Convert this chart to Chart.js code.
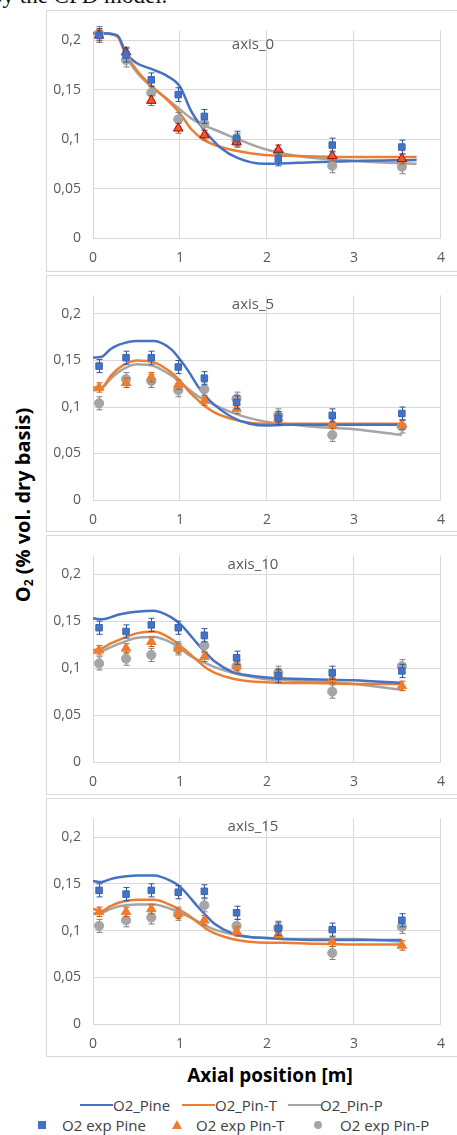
<!DOCTYPE html>
<html>
<head>
<meta charset="utf-8">
<script src="https://cdn.jsdelivr.net/npm/chart.js@4.4.1/dist/chart.umd.min.js"></script>
<style>
  html, body { margin: 0; padding: 0; background: #fff; }
  body { position: relative; width: 457px; height: 1135px; overflow: hidden; font-family: "Open Sans", sans-serif; }
  .abs { position: absolute; }
  .box { position: absolute; border: 1px solid #d9d9d9; box-sizing: border-box; }
  .ptitle { position: absolute; font-size: 15px; color: #595959; transform: translate(-50%, -50%); white-space: nowrap; }
  .leg { position: absolute; font-size: 15px; color: #404040; white-space: nowrap; line-height: 18px; }
  .lline { position: absolute; height: 2px; width: 33px; }
</style>
</head>
<body>

<div class="abs" style="left:-9px;top:-17px;font-family:'Liberation Serif',serif;font-size:23px;color:#111;">by the CFD model.</div>

<div class="abs" style="left:23px;top:505px;transform:translate(-50%,-50%) rotate(-90deg);font-weight:bold;font-size:20px;white-space:nowrap;color:#000;">O<sub style="font-size:0.6em;vertical-align:-0.2em;">2</sub> (% vol. dry basis)</div>
<div class="abs" style="left:270px;top:1075px;transform:translate(-50%,-50%);font-weight:bold;font-size:19px;white-space:nowrap;color:#000;">Axial position [m]</div>

<div id="panels"></div>

<!-- legend -->
<div class="lline" style="left:80px;top:1104px;background:#4472C4;"></div>
<div class="leg" style="left:113px;top:1096px;">O2_Pine</div>
<div class="lline" style="left:182px;top:1104px;background:#ED7D31;"></div>
<div class="leg" style="left:215px;top:1096px;">O2_Pin-T</div>
<div class="lline" style="left:288px;top:1104px;background:#A5A5A5;"></div>
<div class="leg" style="left:320px;top:1096px;">O2_Pin-P</div>

<div class="abs" style="left:38px;top:1121px;width:8px;height:8px;background:#4472C4;"></div>
<div class="leg" style="left:62px;top:1116px;">O2 exp Pine</div>
<div class="abs" style="left:172px;top:1120px;width:0;height:0;border-left:5px solid transparent;border-right:5px solid transparent;border-bottom:9px solid #ED7D31;"></div>
<div class="leg" style="left:196px;top:1116px;">O2 exp Pin-T</div>
<div class="abs" style="left:314px;top:1121px;width:8px;height:8px;border-radius:50%;background:#A5A5A5;"></div>
<div class="leg" style="left:340px;top:1116px;">O2 exp Pin-P</div>

<script>
"use strict";

// ─── Data ────────────────────────────────────────────────────────────────

const X_EXP   = [0.07, 0.38, 0.67, 0.98, 1.28, 1.65, 2.13, 2.75, 3.55];
const X_SIM_0 = [0, 0.1, 0.28, 0.38, 0.5, 0.67, 0.85, 1.0, 1.13, 1.28, 1.47, 1.66, 1.97, 2.35, 3.0, 3.72];
const X_SIM   = [0, 0.1, 0.2, 0.3, 0.5, 0.7, 0.9, 1.0, 1.1, 1.2, 1.3, 1.4, 1.6, 1.8, 2.0, 2.2, 2.5, 3.0, 3.55];

const X_TICKS = [0, 1, 2, 3, 4];
const Y_TICKS = [0, 0.05, 0.1, 0.15, 0.2];

const ERR_PINE = 0.007;
const ERR_PINT = 0.005;
const ERR_PINP = 0.007;

// axis_0
const A0_SIM_PINE = [0.207, 0.207, 0.205, 0.187, 0.177, 0.171, 0.164, 0.153, 0.128, 0.109, 0.091, 0.081, 0.075, 0.076, 0.078, 0.079];
const A0_SIM_PINT = [0.207, 0.207, 0.204, 0.186, 0.170, 0.154, 0.140, 0.126, 0.110, 0.099, 0.092, 0.088, 0.084, 0.083, 0.082, 0.082];
const A0_SIM_PINP = [0.207, 0.207, 0.204, 0.184, 0.168, 0.153, 0.141, 0.130, 0.121, 0.114, 0.107, 0.100, 0.090, 0.083, 0.078, 0.075];
const A0_EXP_PINE = [0.205, 0.185, 0.160, 0.145, 0.123, 0.101, 0.080, 0.094, 0.092];
const A0_EXP_PINT = [0.205, 0.188, 0.139, 0.111, 0.104, 0.097, 0.089, 0.083, 0.080];
const A0_EXP_PINP = [0.207, 0.180, 0.147, 0.120, 0.116, 0.099, 0.087, 0.073, 0.072];

// axis_5
const A5_SIM_PINE = [0.153, 0.154, 0.162, 0.167, 0.171, 0.171, 0.162, 0.151, 0.138, 0.123, 0.111, 0.102, 0.089, 0.082, 0.080, 0.081, 0.081, 0.081, 0.081];
const A5_SIM_PINT = [0.121, 0.121, 0.133, 0.142, 0.150, 0.148, 0.137, 0.128, 0.117, 0.108, 0.100, 0.094, 0.087, 0.083, 0.082, 0.082, 0.082, 0.082, 0.082];
const A5_SIM_PINP = [0.118, 0.120, 0.130, 0.138, 0.146, 0.144, 0.134, 0.127, 0.119, 0.112, 0.107, 0.102, 0.094, 0.088, 0.084, 0.082, 0.079, 0.076, 0.070];
const A5_EXP_PINE = [0.144, 0.153, 0.153, 0.143, 0.131, 0.105, 0.088, 0.091, 0.093];
const A5_EXP_PINT = [0.121, 0.126, 0.132, 0.124, 0.107, 0.098, 0.088, 0.082, 0.081];
const A5_EXP_PINP = [0.104, 0.130, 0.128, 0.118, 0.119, 0.109, 0.091, 0.070, 0.079];

// axis_10
const A10_SIM_PINE = [0.153, 0.152, 0.154, 0.157, 0.160, 0.161, 0.154, 0.147, 0.137, 0.126, 0.116, 0.107, 0.096, 0.092, 0.090, 0.089, 0.088, 0.087, 0.084];
const A10_SIM_PINT = [0.119, 0.121, 0.126, 0.130, 0.137, 0.139, 0.131, 0.124, 0.116, 0.108, 0.100, 0.095, 0.089, 0.086, 0.085, 0.084, 0.084, 0.083, 0.083];
const A10_SIM_PINP = [0.116, 0.118, 0.122, 0.126, 0.132, 0.133, 0.127, 0.121, 0.114, 0.109, 0.105, 0.101, 0.095, 0.091, 0.088, 0.087, 0.086, 0.083, 0.077];
const A10_EXP_PINE = [0.143, 0.139, 0.146, 0.143, 0.135, 0.111, 0.092, 0.095, 0.097];
const A10_EXP_PINT = [0.119, 0.121, 0.128, 0.121, 0.112, 0.102, 0.093, 0.089, 0.081];
const A10_EXP_PINP = [0.105, 0.110, 0.114, 0.121, 0.124, 0.102, 0.095, 0.075, 0.102];

// axis_15
const A15_SIM_PINE = [0.153, 0.152, 0.155, 0.157, 0.159, 0.159, 0.153, 0.147, 0.137, 0.126, 0.116, 0.107, 0.097, 0.093, 0.092, 0.091, 0.090, 0.090, 0.090];
const A15_SIM_PINT = [0.123, 0.121, 0.126, 0.130, 0.133, 0.133, 0.127, 0.122, 0.116, 0.109, 0.102, 0.097, 0.091, 0.088, 0.087, 0.087, 0.086, 0.085, 0.085];
const A15_SIM_PINP = [0.118, 0.119, 0.123, 0.126, 0.128, 0.128, 0.123, 0.119, 0.115, 0.110, 0.105, 0.101, 0.096, 0.093, 0.092, 0.091, 0.091, 0.091, 0.088];
const A15_EXP_PINE = [0.143, 0.139, 0.143, 0.141, 0.142, 0.119, 0.102, 0.101, 0.111];
const A15_EXP_PINT = [0.120, 0.120, 0.123, 0.118, 0.111, 0.099, 0.096, 0.088, 0.084];
const A15_EXP_PINP = [0.105, 0.111, 0.114, 0.118, 0.127, 0.105, 0.103, 0.076, 0.104];

const PANEL_TITLES = ["axis_0", "axis_5", "axis_10", "axis_15"];
const Y_MAX        = [0.21, 0.22, 0.22, 0.22];

// ─── Layout (page pixels) ───────────────────────────────────────────────

const BOXES = [
  { top: 10,  bottom: 272,  plotTop: 22.7,  plotBottom: 238,  titleY: 43  },
  { top: 275, bottom: 532,  plotTop: 291,   plotBottom: 500,  titleY: 303 },
  { top: 535, bottom: 795,  plotTop: 553,   plotBottom: 762,  titleY: 563 },
  { top: 798, bottom: 1057, plotTop: 810.5, plotBottom: 1024, titleY: 825 },
];
const BOX_LEFT  = 47;
const BOX_WIDTH = 410;
const PLOT_LEFT_OFFSET  = 46;  // 93 - 47
const PLOT_RIGHT_OFFSET = 12;  // 457 - 445

const C_PINE = "#4472C4";
const C_PINT = "#ED7D31";
const C_PINP = "#A5A5A5";

// ─── Helpers ─────────────────────────────────────────────────────────────

function pts(xs, ys) {
  return xs.map((x, i) => ({ x, y: ys[i] }));
}

function fmtComma(v) {
  return String(+v.toFixed(2)).replace(".", ",");
}

const errorBarPlugin = {
  id: "errorBars",
  beforeDatasetDraw(chart, args) {
    const ds = chart.data.datasets[args.index];
    if (!ds.err) return;
    const ctx = chart.ctx;
    const xs = chart.scales.x;
    const ys = chart.scales.y;
    ctx.save();
    ctx.strokeStyle = ds.errColor;
    ctx.lineWidth = 1;
    ds.data.forEach((p) => {
      const px  = Math.round(xs.getPixelForValue(p.x)) + 0.5;
      const top = ys.getPixelForValue(p.y + ds.err);
      const bot = ys.getPixelForValue(p.y - ds.err);
      ctx.beginPath();
      ctx.moveTo(px, top); ctx.lineTo(px, bot);
      ctx.moveTo(px - 3, top); ctx.lineTo(px + 3, top);
      ctx.moveTo(px - 3, bot); ctx.lineTo(px + 3, bot);
      ctx.stroke();
    });
    ctx.restore();
  },
};

function simLine(label, data, color) {
  return {
    label, data,
    borderColor: color,
    backgroundColor: color,
    borderWidth: 2.5,
    pointRadius: 0,
    cubicInterpolationMode: "monotone",
    fill: false,
    order: 2,
  };
}

function expPoints(label, data, style, bg, border, err, errColor) {
  return {
    label, data,
    showLine: false,
    pointStyle: style,
    pointRadius: style === "triangle" ? 5.5 : 4.6,
    pointBackgroundColor: bg,
    pointBorderColor: border,
    pointBorderWidth: 1,
    err, errColor,
    clip: false,
    order: 1,
  };
}

// ─── Build panels ────────────────────────────────────────────────────────

const SIM_SETS = [
  [A0_SIM_PINE, A0_SIM_PINT, A0_SIM_PINP],
  [A5_SIM_PINE, A5_SIM_PINT, A5_SIM_PINP],
  [A10_SIM_PINE, A10_SIM_PINT, A10_SIM_PINP],
  [A15_SIM_PINE, A15_SIM_PINT, A15_SIM_PINP],
];
const EXP_SETS = [
  [A0_EXP_PINE, A0_EXP_PINT, A0_EXP_PINP],
  [A5_EXP_PINE, A5_EXP_PINT, A5_EXP_PINP],
  [A10_EXP_PINE, A10_EXP_PINT, A10_EXP_PINP],
  [A15_EXP_PINE, A15_EXP_PINT, A15_EXP_PINP],
];

const host = document.getElementById("panels");

BOXES.forEach((b, i) => {
  const h = b.bottom - b.top;

  const frame = document.createElement("div");
  frame.className = "box";
  frame.style.left = (BOX_LEFT - 1) + "px";
  frame.style.top = b.top + "px";
  frame.style.width = (BOX_WIDTH + 6) + "px";
  frame.style.height = h + "px";
  host.appendChild(frame);

  const canvas = document.createElement("canvas");
  canvas.width = BOX_WIDTH;
  canvas.height = h;
  canvas.style.position = "absolute";
  canvas.style.left = BOX_LEFT + "px";
  canvas.style.top = b.top + "px";
  host.appendChild(canvas);

  const t = document.createElement("div");
  t.className = "ptitle";
  t.style.left = "253px";
  t.style.top = b.titleY + "px";
  t.textContent = PANEL_TITLES[i];
  host.appendChild(t);

  const xSim = i === 0 ? X_SIM_0 : X_SIM;
  const [sPine, sPinT, sPinP] = SIM_SETS[i];
  const [ePine, ePinT, ePinP] = EXP_SETS[i];
  // first panel shows its triangles red with a dark outline
  const triFill   = i === 0 ? "#EA5A2C" : C_PINT;
  const triBorder = i === 0 ? "#B00000" : C_PINT;

  new Chart(canvas.getContext("2d"), {
    type: "line",
    data: {
      datasets: [
        simLine("O2_Pine", pts(xSim, sPine), C_PINE),
        simLine("O2_Pin-T", pts(xSim, sPinT), C_PINT),
        simLine("O2_Pin-P", pts(xSim, sPinP), C_PINP),
        expPoints("O2 exp Pine", pts(X_EXP, ePine), "rect", C_PINE, "#3A66B5", ERR_PINE, "#2F5597"),
        expPoints("O2 exp Pin-T", pts(X_EXP, ePinT), "triangle", triFill, triBorder, ERR_PINT, "#C55A11"),
        expPoints("O2 exp Pin-P", pts(X_EXP, ePinP), "circle", C_PINP, C_PINP, ERR_PINP, "#7F7F7F"),
      ],
    },
    options: {
      responsive: false,
      devicePixelRatio: 1,
      animation: false,
      events: [],
      layout: {
        padding: { top: b.plotTop - b.top, left: 0, right: PLOT_RIGHT_OFFSET, bottom: 0 },
      },
      plugins: { legend: { display: false }, tooltip: { enabled: false } },
      scales: {
        x: {
          type: "linear",
          min: 0, max: 4,
          afterBuildTicks: (s) => { s.ticks = X_TICKS.map((v) => ({ value: v })); },
          afterFit: (s) => { s.height = b.bottom - b.plotBottom; },
          grid: { color: "#d9d9d9", drawTicks: false },
          border: { color: "#d9d9d9" },
          ticks: { padding: 12, color: "#595959", font: { family: "Open Sans", size: 14 } },
        },
        y: {
          min: 0, max: Y_MAX[i],
          afterBuildTicks: (s) => { s.ticks = Y_TICKS.map((v) => ({ value: v })); },
          afterFit: (s) => { s.width = PLOT_LEFT_OFFSET; },
          grid: { color: "#d9d9d9", drawTicks: false },
          border: { display: false },
          ticks: {
            padding: 12, color: "#595959", font: { family: "Open Sans", size: 14 },
            callback: (v) => fmtComma(v),
          },
        },
      },
    },
    plugins: [errorBarPlugin],
  });
});
</script>
</body>
</html>
